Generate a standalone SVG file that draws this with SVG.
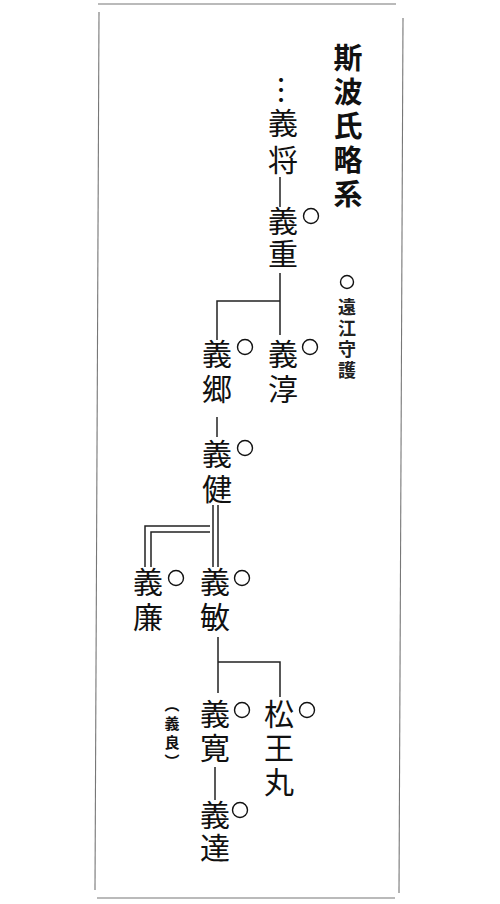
<svg xmlns="http://www.w3.org/2000/svg" width="500" height="904" viewBox="0 0 500 904">
<style>
  .v { font-family: "Noto Sans CJK JP", "Noto Sans CJK SC", sans-serif; writing-mode: vertical-rl; fill: #111; }
  .nm { font-size: 30px; }
  .ttl { font-size: 29px; font-weight: 700; }
  .sm { font-size: 18px; font-weight: 700; fill: #222; }
  .mk { fill: none; stroke: #111; stroke-width: 1.4; }
  .ln { fill: none; stroke: #222; stroke-width: 1.5; }
  .frame { fill: none; stroke: #777; stroke-width: 1.1; }
</style>
<rect x="0" y="0" width="500" height="904" fill="#fff"/>
<g id="frame">
  <line class="frame" x1="98" y1="4" x2="396" y2="4" stroke="#555"/>
  <line class="frame" x1="99" y1="12" x2="95" y2="890"/>
  <line class="frame" x1="403" y1="18" x2="399" y2="893"/>
  <line class="frame" x1="97" y1="898" x2="395" y2="898"/>
</g>
<g id="title">
  <text class="v ttl" x="348" y="43.5" letter-spacing="5">斯波氏略系</text>
</g>
<g id="legend">
  <circle class="mk" cx="347" cy="282" r="6.5"/>
  <text class="v sm" x="347" y="298" letter-spacing="3">遠江守護</text>
</g>
<g id="connectors">
  <text class="v" x="283" y="75" font-size="30">…</text>
  <line class="ln" x1="280" y1="177" x2="280" y2="207"/>
  <path class="ln" d="M280,273 V335 M280,301 H217 V340"/>
  <line class="ln" x1="217" y1="417" x2="217" y2="437"/>
  <path class="ln" d="M213,505 V567 M218,505 V567"/>
  <path class="ln" d="M145,567 V526 H210 M151,567 V532 H210"/>
  <path class="ln" d="M218,637 V693 M218,662 H280 V697"/>
  <line class="ln" x1="215" y1="767" x2="215" y2="800"/>
</g>
<g id="n-yoshimasa">
  <text class="v nm" x="283" y="108" letter-spacing="7">義将</text>
</g>
<g id="n-yoshishige">
  <text class="v nm" x="283" y="206" letter-spacing="3">義重</text>
  <circle class="mk" cx="311" cy="216" r="7.5"/>
</g>
<g id="n-yoshiatsu">
  <text class="v nm" x="283" y="339" letter-spacing="5">義淳</text>
  <circle class="mk" cx="310" cy="347" r="7.5"/>
</g>
<g id="n-yoshisato">
  <text class="v nm" x="217" y="339" letter-spacing="5">義郷</text>
  <circle class="mk" cx="245" cy="347" r="7.5"/>
</g>
<g id="n-yoshitake">
  <text class="v nm" x="217" y="439" letter-spacing="5">義健</text>
  <circle class="mk" cx="245" cy="448" r="7.5"/>
</g>
<g id="n-yoshikado">
  <text class="v nm" x="148" y="567" letter-spacing="5">義廉</text>
  <circle class="mk" cx="176" cy="578" r="7.5"/>
</g>
<g id="n-yoshitoshi">
  <text class="v nm" x="215" y="567" letter-spacing="5">義敏</text>
  <circle class="mk" cx="242" cy="578" r="7.5"/>
</g>
<g id="n-yoshihiro">
  <text class="v nm" x="215" y="699" letter-spacing="4">義寛</text>
  <circle class="mk" cx="242" cy="710" r="7.5"/>
  <text class="v" x="172" y="697" font-size="15" font-weight="700" letter-spacing="4">（義良）</text>
</g>
<g id="n-matsuomaru">
  <text class="v nm" x="279" y="699" letter-spacing="4">松王丸</text>
  <circle class="mk" cx="307" cy="710" r="7.5"/>
</g>
<g id="n-yoshimichi">
  <text class="v nm" x="215" y="800" letter-spacing="3">義達</text>
  <circle class="mk" cx="240" cy="810" r="7.5"/>
</g>
</svg>
